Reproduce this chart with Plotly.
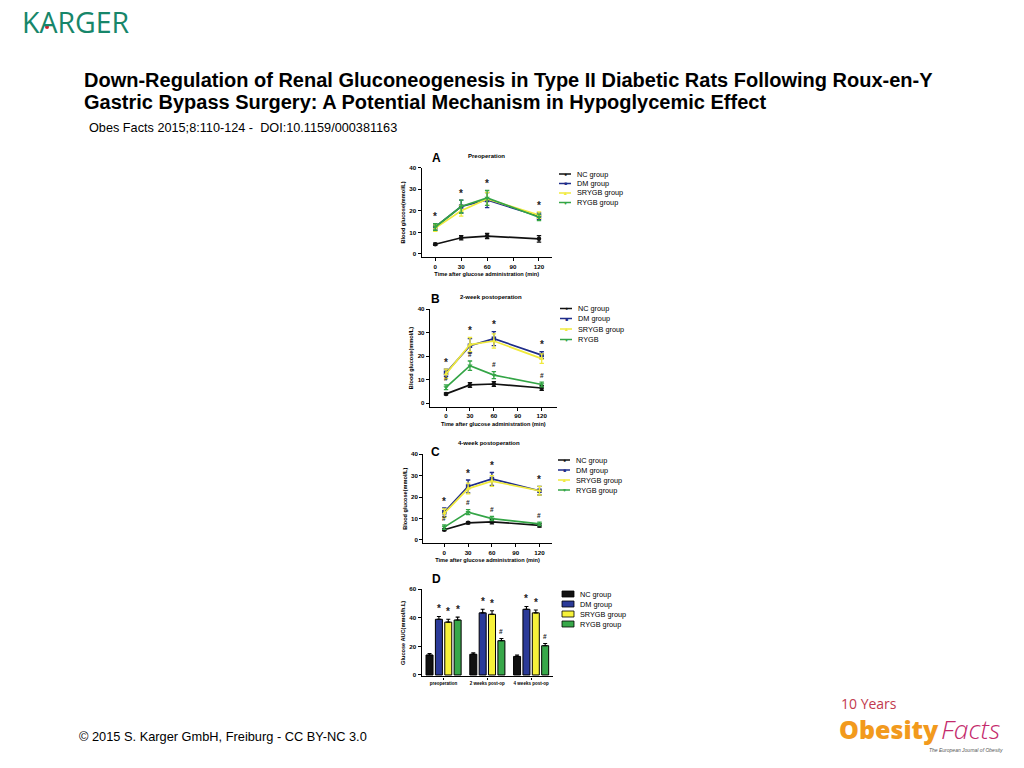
import numpy as np
import plotly.graph_objects as go

W, H = 1024, 768
def px(x): return x / W
def py(y): return 1 - y / H

FONT = "Liberation Sans, Arial, sans-serif"

# ---------------- data ----------------
time_min = [0, 30, 60, 120]
group_names = ["NC group", "DM group", "SRYGB group", "RYGB group"]
group_names_b = ["NC group", "DM group", "SRYGB group", "RYGB"]

# Panel A: preoperation (mean, error)
a_nc = [4.5, 7.5, 8.3, 7.0];    a_nc_err = [0.5, 1.0, 1.2, 1.5]
a_dm = [12.5, 22.0, 25.0, 17.5]; a_dm_err = [1.5, 3.0, 3.5, 1.5]
a_sr = [12.0, 20.0, 25.5, 18.0]; a_sr_err = [1.5, 2.5, 3.0, 1.5]
a_ry = [12.5, 22.0, 26.0, 17.0]; a_ry_err = [1.5, 3.0, 3.5, 1.5]
a_star = ["*", "*", "*", "*"]
a_hash = ["", "", "", ""]

# Panel B: 2-week postoperation
b_nc = [4.0, 7.8, 8.2, 6.5];     b_nc_err = [0.4, 1.0, 1.0, 1.0]
b_dm = [13.0, 24.5, 27.5, 20.5]; b_dm_err = [1.5, 3.0, 3.0, 1.5]
b_sr = [12.5, 25.0, 26.5, 19.0]; b_sr_err = [2.0, 3.0, 3.0, 2.0]
b_ry = [6.8, 16.0, 12.0, 8.0];   b_ry_err = [1.0, 2.0, 1.5, 1.0]
b_star = ["*", "*", "*", "*"]
b_hash = ["#", "#", "#", "#"]

# Panel C: 4-week postoperation
c_nc = [4.8, 8.0, 8.5, 6.8];     c_nc_err = [0.4, 0.5, 1.0, 0.8]
c_dm = [13.0, 25.0, 28.5, 23.0]; c_dm_err = [2.0, 3.0, 3.0, 2.0]
c_sr = [12.5, 24.0, 27.5, 23.0]; c_sr_err = [2.0, 2.5, 2.5, 2.0]
c_ry = [6.0, 13.0, 10.0, 7.5];   c_ry_err = [1.0, 1.2, 1.0, 0.8]
c_star = ["*", "*", "*", "*"]
c_hash = ["#", "#", "#", "#"]

# Panel D: glucose AUC
d_categories = ["preoperation", "2 weeks post-op", "4 weeks post-op"]
d_nc = [14.0, 14.5, 13.0];  d_nc_err = [1.0, 1.0, 1.0]
d_dm = [39.0, 43.5, 46.0];  d_dm_err = [2.0, 2.5, 2.0]
d_sr = [37.0, 42.5, 43.5];  d_sr_err = [2.0, 2.5, 2.0]
d_ry = [38.5, 24.0, 20.5];  d_ry_err = [2.0, 1.5, 1.5]
d_sig_nc = ["", "", ""]
d_sig_dm = ["*", "*", "*"]
d_sig_sr = ["*", "*", "*"]
d_sig_ry = ["*", "#", "#"]

# ---------------- styles ----------------
LINE_COLORS = ["#111111", "#1f2d8a", "#f0ea3c", "#34a546"]
BAR_COLORS = ["#111111", "#2b3a98", "#f7f23a", "#38a84a"]
SYMBOLS = ["circle", "square", "triangle-up", "triangle-down"]
GLYPHS = ["\u25CF", "\u25A0", "\u25B2", "\u25BC"]

fig = go.Figure()
annotations = []
shapes = []

def axis_common():
    return dict(showline=True, linecolor="black", linewidth=1.4, ticks="outside",
                ticklen=3, tickwidth=1.2, tickcolor="black", showgrid=False,
                zeroline=False, automargin=False,
                tickfont=dict(family=FONT, size=6.2, color="black", weight="bold"))

def line_panel(idx, data, stars, hashes, xdom, ydom, xrange_, yrange_):
    xa = "x" if idx == 1 else f"x{idx}"
    ya = "y" if idx == 1 else f"y{idx}"
    for k, (vals, err) in enumerate(data):
        fig.add_trace(go.Scatter(
            x=time_min, y=vals, mode="lines+markers", xaxis=xa, yaxis=ya,
            showlegend=False,
            line=dict(color=LINE_COLORS[k], width=1.7),
            marker=dict(symbol=SYMBOLS[k], size=4.5, color=LINE_COLORS[k]),
            error_y=dict(type="data", array=err, color=LINE_COLORS[k],
                         thickness=1.3, width=2.2)))
    tops_hi = [max(data[1][0][i] + data[1][1][i], data[2][0][i] + data[2][1][i],
                   data[3][0][i] + data[3][1][i]) for i in range(len(time_min))]
    tops_ry = [data[3][0][i] + data[3][1][i] for i in range(len(time_min))]
    for i, t in enumerate(time_min):
        if stars[i]:
            hi = tops_hi[i] if hashes[i] else max(tops_hi[i], tops_ry[i])
            annotations.append(dict(x=t, y=hi - 0.3, xref=xa, yref=ya, text=stars[i],
                                    showarrow=False, yanchor="bottom",
                                    font=dict(family=FONT, size=10, color="#222", weight="bold")))
        if hashes[i]:
            annotations.append(dict(x=t, y=tops_ry[i] + 0.6, xref=xa, yref=ya, text=hashes[i],
                                    showarrow=False, yanchor="bottom",
                                    font=dict(family=FONT, size=6.5, color="#222", weight="bold")))
    xkey = "xaxis" if idx == 1 else f"xaxis{idx}"
    ykey = "yaxis" if idx == 1 else f"yaxis{idx}"
    xax = axis_common()
    xax.update(domain=xdom, range=xrange_, anchor=ya, tickvals=[0, 30, 60, 90, 120],
               title=dict(text="Time after glucose administration (min)", standoff=3,
                          font=dict(family=FONT, size=5.6, color="black", weight="bold")))
    yax = axis_common()
    yax.update(domain=ydom, range=yrange_, anchor=xa, tickvals=[0, 10, 20, 30, 40],
               title=dict(text="Blood glucose(mmol/L)", standoff=3,
                          font=dict(family=FONT, size=5.6, color="black", weight="bold")))
    fig.update_layout({xkey: xax, ykey: yax})

def dom_x(x0, x1): return [px(x0), px(x1)]
def dom_y(top, bottom): return [py(bottom), py(top)]

line_panel(1, [(a_nc, a_nc_err), (a_dm, a_dm_err), (a_sr, a_sr_err), (a_ry, a_ry_err)],
           a_star, a_hash, dom_x(421.7, 551.7), dom_y(167.7, 257.2), [-15.7, 134.7], [-1.5, 40])
line_panel(2, [(b_nc, b_nc_err), (b_dm, b_dm_err), (b_sr, b_sr_err), (b_ry, b_ry_err)],
           b_star, b_hash, dom_x(430, 556.7), dom_y(309.3, 406.8), [-20.1, 138.8], [-1.5, 40])
line_panel(3, [(c_nc, c_nc_err), (c_dm, c_dm_err), (c_sr, c_sr_err), (c_ry, c_ry_err)],
           c_star, c_hash, dom_x(423.3, 551.7), dom_y(454.3, 543.2), [-26.5, 135.4], [-1.5, 40])

# ---- Panel D bars ----
cat_idx = np.arange(len(d_categories))
bar_pitch = 0.214
bar_w = 0.16
d_series = [(d_nc, d_nc_err, d_sig_nc), (d_dm, d_dm_err, d_sig_dm),
            (d_sr, d_sr_err, d_sig_sr), (d_ry, d_ry_err, d_sig_ry)]
for k, (vals, err, sig) in enumerate(d_series):
    xs = cat_idx + (k - 1.5) * bar_pitch
    fig.add_trace(go.Bar(
        x=xs, y=vals, width=bar_w, xaxis="x4", yaxis="y4", showlegend=False,
        marker=dict(color=BAR_COLORS[k], line=dict(color="black", width=1)),
        error_y=dict(type="data", array=err, arrayminus=[0] * len(err), symmetric=False,
                     color="black", thickness=1.1, width=2)))
    for i, s in enumerate(sig):
        if s:
            annotations.append(dict(x=xs[i], y=vals[i] + err[i] + (0.0 if s == "*" else 0.8),
                                    xref="x4", yref="y4",
                                    text=s, showarrow=False, yanchor="bottom",
                                    font=dict(family=FONT, size=10 if s == "*" else 6.5,
                                              color="#222", weight="bold")))
xax4 = axis_common()
xax4.update(domain=dom_x(421.7, 553), range=[-0.5, 2.5], anchor="y4",
            tickvals=list(cat_idx), ticktext=d_categories, ticklen=2,
            tickfont=dict(family=FONT, size=4.5, color="black", weight="bold"))
yax4 = axis_common()
yax4.update(domain=dom_y(589.3, 676.4), range=[-1, 60], anchor="x4", tickvals=[0, 20, 40, 60],
            title=dict(text="Glucose AUC(mmol/h.L)", standoff=3,
                       font=dict(family=FONT, size=5.6, color="black", weight="bold")))
fig.update_layout(xaxis4=xax4, yaxis4=yax4, barmode="overlay")

# ---- panel labels ----
def label(x, y, text, size, anchor="left"):
    annotations.append(dict(x=px(x), y=py(y), xref="paper", yref="paper", text=text,
                            showarrow=False, xanchor=anchor, yanchor="middle",
                            font=dict(family=FONT, size=size, color="black", weight="bold")))

label(430, 158, "A", 12); label(466, 156, "Preoperation", 6)
label(429, 299, "B", 12); label(458, 297, "2-week postoperation", 6)
label(429, 452, "C", 12); label(456, 443, "4-week postoperation", 6)
label(430, 579, "D", 12)

# ---- custom legends ----
def line_legend(x0, x1, xt, rows, names):
    for k, (yr, nm) in enumerate(zip(rows, names)):
        shapes.append(dict(type="line", xref="paper", yref="paper", x0=px(x0), x1=px(x1),
                           y0=py(yr), y1=py(yr), line=dict(color=LINE_COLORS[k], width=1.5)))
        annotations.append(dict(x=px((x0 + x1) / 2), y=py(yr), xref="paper", yref="paper",
                                text=GLYPHS[k], showarrow=False, xanchor="center",
                                yanchor="middle", font=dict(size=5, color=LINE_COLORS[k])))
        annotations.append(dict(x=px(xt), y=py(yr), xref="paper", yref="paper", text=nm,
                                showarrow=False, xanchor="left", yanchor="middle",
                                font=dict(family=FONT, size=7.3, color="black")))

line_legend(559, 571, 575, [174, 183.5, 193, 202.5], group_names)
line_legend(560, 572, 576, [308.5, 318.5, 329, 339.5], group_names_b)
line_legend(558, 570, 574, [460, 470, 480, 490], group_names)

for k, (yr, nm) in enumerate(zip([594, 604, 614, 624], group_names)):
    shapes.append(dict(type="rect", xref="paper", yref="paper", x0=px(562), x1=px(574),
                       y0=py(yr + 3), y1=py(yr - 3), fillcolor=BAR_COLORS[k],
                       line=dict(color="black", width=0.8)))
    annotations.append(dict(x=px(578), y=py(yr), xref="paper", yref="paper", text=nm,
                            showarrow=False, xanchor="left", yanchor="middle",
                            font=dict(family=FONT, size=7.3, color="black")))

# ---- page text ----
annotations.append(dict(x=px(82), y=py(80), xref="paper", yref="paper", showarrow=False,
                        xanchor="left", yanchor="middle",
                        text="Down-Regulation of Renal Gluconeogenesis in Type II Diabetic Rats Following Roux-en-Y",
                        font=dict(family=FONT, size=20, color="black", weight="bold")))
annotations.append(dict(x=px(82), y=py(102), xref="paper", yref="paper", showarrow=False,
                        xanchor="left", yanchor="middle",
                        text="Gastric Bypass Surgery: A Potential Mechanism in Hypoglycemic Effect",
                        font=dict(family=FONT, size=20, color="black", weight="bold")))
annotations.append(dict(x=px(87), y=py(128), xref="paper", yref="paper", showarrow=False,
                        xanchor="left", yanchor="middle",
                        text="Obes Facts 2015;8:110-124 -  DOI:10.1159/000381163",
                        font=dict(family=FONT, size=12.7, color="black")))
annotations.append(dict(x=px(77), y=py(736), xref="paper", yref="paper", showarrow=False,
                        xanchor="left", yanchor="middle",
                        text="\u00a9 2015 S. Karger GmbH, Freiburg - CC BY-NC 3.0",
                        font=dict(family=FONT, size=12.8, color="black")))
# Karger logo
annotations.append(dict(x=px(20), y=py(22), xref="paper", yref="paper", showarrow=False,
                        xanchor="left", yanchor="middle", text="KARGER",
                        font=dict(family="Open Sans, " + FONT, size=28.5, color="#17866a")))
shapes.append(dict(type="circle", xref="paper", yref="paper", x0=px(45), x1=px(49),
                   y0=py(29), y1=py(25), fillcolor="#d0202a", line=dict(width=0)))
# Obesity Facts logo
annotations.append(dict(x=px(839), y=py(703), xref="paper", yref="paper", showarrow=False,
                        xanchor="left", yanchor="middle", text="10 Years",
                        font=dict(family="Open Sans, " + FONT, size=14, color="#c23a4e")))
annotations.append(dict(x=px(837), y=py(729), xref="paper", yref="paper", showarrow=False,
                        xanchor="left", yanchor="middle", text="Obesity",
                        font=dict(family="Open Sans, " + FONT, size=25, color="#f29a1d", weight=800)))
annotations.append(dict(x=px(939), y=py(729), xref="paper", yref="paper", showarrow=False,
                        xanchor="left", yanchor="middle", text="<i>Facts</i>",
                        font=dict(family="Open Sans, " + FONT, size=26.5, color="#c42a6c", weight=300)))
annotations.append(dict(x=px(1005), y=py(750), xref="paper", yref="paper", showarrow=False,
                        xanchor="right", yanchor="middle", text="<i>The European Journal of Obesity</i>",
                        font=dict(family=FONT, size=5, color="#555")))

fig.update_layout(width=W, height=H, margin=dict(l=0, r=0, t=0, b=0),
                  paper_bgcolor="white", plot_bgcolor="white",
                  annotations=annotations, shapes=shapes, showlegend=False)

fig.write_html("out.html", config={"displayModeBar": False},
               post_script="document.body.style.margin='0px';document.body.style.padding='0px';")
